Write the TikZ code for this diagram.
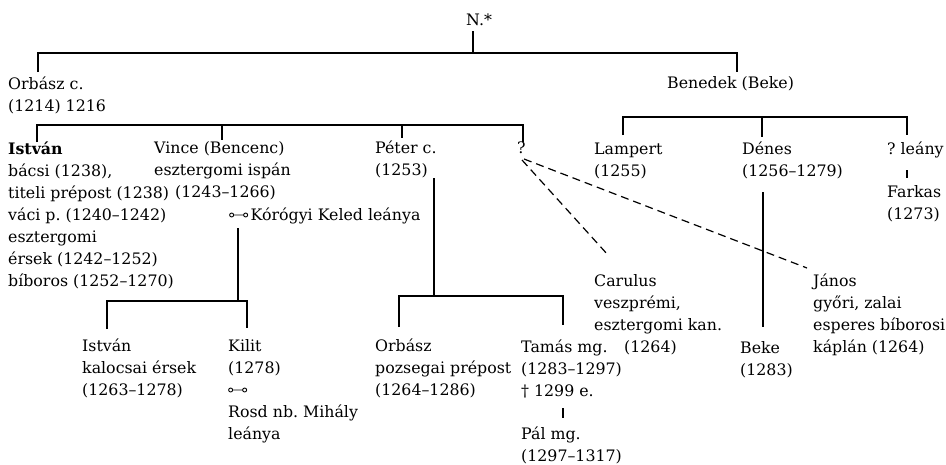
\documentclass[tikz,border=0pt]{standalone}
\usepackage{fontspec}
\setmainfont{DejaVu Serif}
\frenchspacing

\tikzset{
  person/.style={anchor=base west, inner sep=0pt, align=left, font=\fontsize{15.8}{22}\selectfont},
  kin/.style={line width=1.4pt},
  maybe/.style={line width=1.2pt, dash pattern=on 8pt off 5pt},
}
% marriage sign
\newcommand{\wed}{\tikz[baseline=0pt]{\draw[line width=0.9pt] (2pt,5pt) circle (2pt) (4pt,5pt) -- (14pt,5pt) (16pt,5pt) circle (2pt);}\,}

\begin{document}
\begin{tikzpicture}[x=1pt,y=-1pt]
\useasboundingbox (0,0) rectangle (946,464);

%the people (placed at the baseline of their last line)
\node[person] (n) at (466,25) {N.*};
\node[person] (orbasz) at (8,111) {Orbász c.\\(1214) 1216};
\node[person] (benedek) at (667,88) {Benedek (Beke)};
\node[person] (istvan) at (8,286) {\textbf{István}\\bácsi (1238),\\titeli prépost (1238)\\váci p. (1240--1242)\\esztergomi\\érsek (1242--1252)\\bíboros (1252--1270)};
\node[person] (vince) at (154,197) {Vince (Bencenc)\\esztergomi ispán\\\hspace*{21pt}(1243--1266)};
\node[person] (vincewife) at (229,220) {\wed Kórógyi Keled leánya};
\node[person] (peter) at (375,175) {Péter c.\\(1253)};
\node[person] (unknown) at (517,153) {?};
\node[person] (lampert) at (594,176) {Lampert\\(1255)};
\node[person] (denes) at (742,176) {Dénes\\(1256--1279)};
\node[person] (leany) at (887,154) {? leány};
\node[person] (farkas) at (887,219) {Farkas\\(1273)};
\node[person] (istvanjr) at (82,395) {István\\kalocsai érsek\\(1263--1278)};
\node[person] (kilit) at (228,439) {Kilit\\(1278)\\\wed\\Rosd nb. Mihály\\leánya};
\node[person] (orbaszjr) at (375,395) {Orbász\\pozsegai prépost\\(1264--1286)};
\node[person] (tamas) at (521,396) {Tamás mg.\\(1283--1297)\\† 1299 e.};
\node[person] (pal) at (521,461) {Pál mg.\\(1297--1317)};
\node[person] (carulus) at (594,352) {Carulus\\veszprémi,\\esztergomi kan.\\\hspace*{30pt}(1264)};
\node[person] (beke) at (740,375) {Beke\\(1283)};
\node[person] (janos) at (813,352) {János\\győri, zalai\\esperes bíborosi\\káplán (1264)};

%ends of the lines
\foreach \name/\x/\y in {nfoot/473/31, nbar/473/53,
    orbtick/38/72, bentick/737/72, orbbar/38/53, benbar/737/53,
    istick/37/142, istbar/37/125, vintick/222/140, vinbar/222/125,
    pettick/402/138, petbar/402/125, unktick/523/142, unkbar/523/125,
    lamtick/623/135, lambar/623/117, dentick/762/137, denbar/762/117,
    leatick/907/135, leabar/907/117, leafoot/907/170, farktop/907/178,
    vinfoot/238/228, vinjoin/238/301,
    isjtick/107/329, isjbar/107/301, kiltick/247/328, kilbar/247/301,
    petfoot/434/178, petjoin/434/296,
    orjtick/399/327, orjbar/399/296, tamtick/563/325, tambar/563/296,
    tamfoot/563/408, paltop/563/418,
    denfoot/763/192, beketop/763/327,
    unkfoot/522/160, carend/608/255, unkfootb/524/159, janend/807/268}
  \coordinate (\name) at (\x,\y);

%lines of descent
\draw[kin] (nfoot) -- (nbar);
\draw[kin] (orbtick) -- (orbbar) -- (benbar) -- (bentick);
\draw[kin] (istick) -- (istbar) -- (unkbar) -- (unktick);
\draw[kin] (vinbar) -- (vintick)  (petbar) -- (pettick);
\draw[kin] (lamtick) -- (lambar) -- (leabar) -- (leatick);
\draw[kin] (denbar) -- (dentick);
\draw[kin] (leafoot) -- (farktop);
\draw[kin] (vinfoot) -- (vinjoin);
\draw[kin] (isjtick) -- (isjbar) -- (kilbar) -- (kiltick);
\draw[kin] (petfoot) -- (petjoin);
\draw[kin] (orjtick) -- (orjbar) -- (tambar) -- (tamtick);
\draw[kin] (tamfoot) -- (paltop);
\draw[kin] (denfoot) -- (beketop);
\draw[maybe] (unkfoot) -- (carend);
\draw[maybe] (unkfootb) -- (janend);

\end{tikzpicture}
\end{document}
